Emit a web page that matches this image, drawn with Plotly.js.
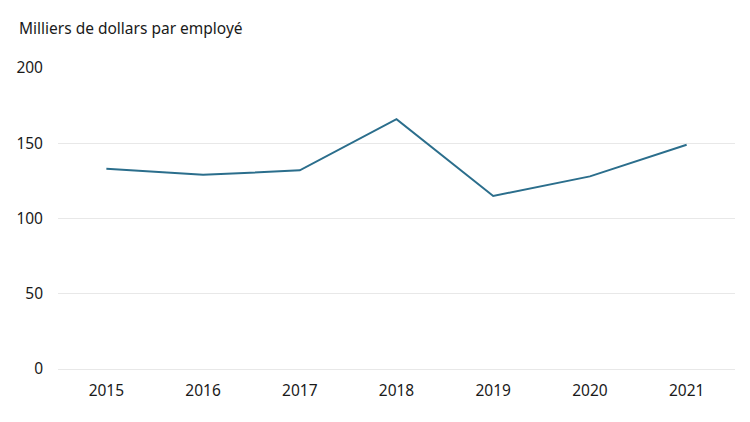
<!DOCTYPE html>
<html>
<head>
<meta charset="utf-8">
<script src="https://cdn.plot.ly/plotly-3.0.1.min.js"></script>
<style>
  html, body { margin: 0; padding: 0; background: #fff; }
  #chart { width: 750px; height: 422px; }
</style>
</head>
<body>
<div id="chart"></div>
<script>
// ─── Data ───
const years = ["2015", "2016", "2017", "2018", "2019", "2020", "2021"];
const valeurs = [133, 129, 132, 166, 115, 128, 149];
const yTicks = [0, 50, 100, 150, 200];

const font = "'Noto Sans', 'Open Sans', sans-serif";

const trace = {
  x: years,
  y: valeurs,
  type: "scatter",
  mode: "lines",
  line: { color: "#2b6e8c", width: 2 },
  hoverinfo: "x+y",
};

const layout = {
  width: 750,
  height: 422,
  paper_bgcolor: "#ffffff",
  plot_bgcolor: "#ffffff",
  font: { family: font, size: 15.5, color: "#1a1a1a" },
  margin: { l: 58, r: 15, t: 67.5, b: 52.5 },
  showlegend: false,
  title: {
    text: "Milliers de dollars par employé",
    font: { family: font, size: 15.5, color: "#1a1a1a" },
    x: 19 / 750,
    xanchor: "left",
    xref: "container",
    y: 1 - 29 / 422,
    yanchor: "middle",
    yref: "container",
  },
  xaxis: {
    type: "category",
    range: [-0.5, 6.5],
    showgrid: false,
    showline: false,
    zeroline: false,
    ticks: "",
    ticklabelstandoff: 10,
    fixedrange: true,
  },
  yaxis: {
    range: [0, 200],
    tickvals: yTicks,
    showgrid: true,
    gridcolor: "#e8e8e8",
    gridwidth: 1,
    zeroline: true,
    zerolinecolor: "#e8e8e8",
    zerolinewidth: 1,
    showline: false,
    ticks: "",
    ticklabelstandoff: 14,
    fixedrange: true,
  },
};

Plotly.newPlot("chart", [trace], layout, { displayModeBar: false, staticPlot: true });
</script>
</body>
</html>
